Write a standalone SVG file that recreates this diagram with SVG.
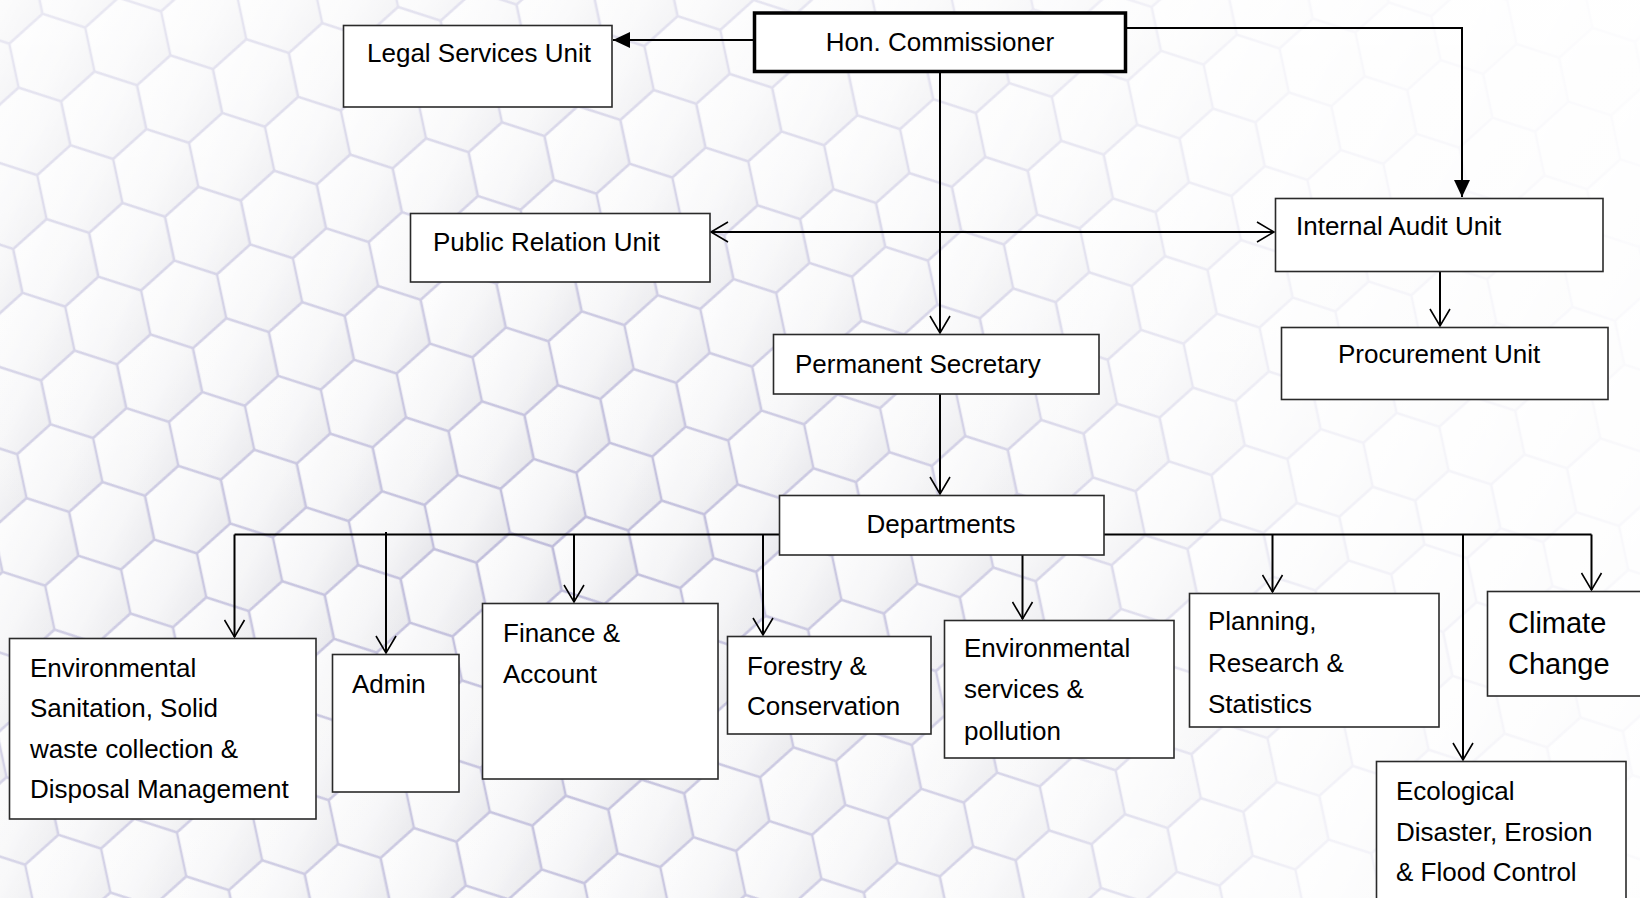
<svg xmlns="http://www.w3.org/2000/svg" xmlns:xlink="http://www.w3.org/1999/xlink" width="1640" height="898" viewBox="0 0 1640 898">
  <defs>
    <style>
      .box { fill: #ffffff; stroke: #2a2a2a; stroke-width: 1.6; }
      .box-main { fill: #ffffff; stroke: #000000; stroke-width: 3.5; }
      .lbl { font-family: "Liberation Sans", Arial, sans-serif; font-size: 26px; fill: #000000; }
      .lbl-big { font-family: "Liberation Sans", Arial, sans-serif; font-size: 29px; fill: #000000; }
      .conn { fill: none; stroke: #000000; stroke-width: 2; }
      .open { marker-end: url(#openArrow); }
      .filled { marker-end: url(#filledArrow); }
      .both { marker-start: url(#openArrowStart); marker-end: url(#openArrow); }
    </style>
    <marker id="openArrow" markerUnits="userSpaceOnUse" viewBox="0 0 20 22" markerWidth="20" markerHeight="22" refX="18" refY="11" orient="auto">
      <path d="M1,1 L18,11 L1,21" fill="none" stroke="#000000" stroke-width="1.6"/>
    </marker>
    <marker id="openArrowStart" markerUnits="userSpaceOnUse" viewBox="0 0 20 22" markerWidth="20" markerHeight="22" refX="18" refY="11" orient="auto-start-reverse">
      <path d="M1,1 L18,11 L1,21" fill="none" stroke="#000000" stroke-width="1.6"/>
    </marker>
    <marker id="filledArrow" markerUnits="userSpaceOnUse" viewBox="0 0 18 16" markerWidth="18" markerHeight="16" refX="17" refY="8" orient="auto">
      <path d="M0,0 L17,8 L0,16 Z" fill="#000000"/>
    </marker>
    <linearGradient id="cellg" x1="0" y1="0" x2="1" y2="1">
      <stop offset="0" stop-color="#ffffff"/>
      <stop offset="0.55" stop-color="#f3f3f5"/>
      <stop offset="1" stop-color="#dcdce2"/>
    </linearGradient>
    <path id="hx" d="M0,-40 L34.64,-20 L34.64,20 L0,40 L-34.64,20 L-34.64,-20 Z"/>
    <pattern id="hexPat" patternUnits="userSpaceOnUse" width="69.28" height="120" patternTransform="rotate(-12) scale(1.12)">
      <rect width="69.28" height="120" fill="#e8e8ee"/>
      <g fill="url(#cellg)" stroke="#b7b4d6" stroke-width="2.2">
        <use xlink:href="#hx" href="#hx" transform="translate(0,0)"/>
        <use xlink:href="#hx" href="#hx" transform="translate(69.28,0)"/>
        <use xlink:href="#hx" href="#hx" transform="translate(34.64,60)"/>
        <use xlink:href="#hx" href="#hx" transform="translate(0,120)"/>
        <use xlink:href="#hx" href="#hx" transform="translate(69.28,120)"/>
      </g>
    </pattern>
    <linearGradient id="fadeX" x1="0" y1="0" x2="1" y2="0">
      <stop offset="0" stop-color="#ffffff" stop-opacity="0.35"/>
      <stop offset="0.35" stop-color="#ffffff" stop-opacity="0.1"/>
      <stop offset="0.6" stop-color="#ffffff" stop-opacity="0.35"/>
      <stop offset="0.8" stop-color="#ffffff" stop-opacity="0.8"/>
      <stop offset="1" stop-color="#ffffff" stop-opacity="0.92"/>
    </linearGradient>
    <linearGradient id="fadeY" x1="0" y1="0" x2="0" y2="1">
      <stop offset="0" stop-color="#ffffff" stop-opacity="0.55"/>
      <stop offset="0.35" stop-color="#ffffff" stop-opacity="0.2"/>
      <stop offset="0.6" stop-color="#ffffff" stop-opacity="0"/>
      <stop offset="1" stop-color="#ffffff" stop-opacity="0.15"/>
    </linearGradient>
  </defs>

  <g id="background">
    <rect x="0" y="0" width="1640" height="898" fill="#f6f6f8"/>
    <rect x="0" y="0" width="1640" height="898" fill="url(#hexPat)"/>
    <rect x="0" y="0" width="1640" height="898" fill="url(#fadeX)"/>
    <rect x="0" y="0" width="1640" height="898" fill="url(#fadeY)"/>
  </g>

  <g id="connectors">
    <path class="conn filled" d="M753,40 H613"/>
    <path class="conn filled" d="M1124,28 H1462 V197"/>
    <path class="conn both" d="M711,232 H1274"/>
    <path class="conn open" d="M940,73 V333"/>
    <path class="conn open" d="M1440,272 V326"/>
    <path class="conn open" d="M940,394 V494"/>
    <path class="conn" d="M234.5,534.5 H1591.5"/>
    <path class="conn open" d="M234.5,534.5 V637"/>
    <path class="conn open" d="M386,532 V653"/>
    <path class="conn open" d="M574,534.5 V602"/>
    <path class="conn open" d="M763,534.5 V635"/>
    <path class="conn open" d="M1022.5,555 V619"/>
    <path class="conn open" d="M1272.5,534.5 V592"/>
    <path class="conn open" d="M1463,534.5 V760"/>
    <path class="conn open" d="M1591.5,534.5 V590"/>
  </g>

  <g id="node-commissioner">
    <rect class="box-main" x="754.5" y="13" width="371" height="58.5"/>
    <text class="lbl" x="940" y="51" text-anchor="middle">Hon. Commissioner</text>
  </g>
  <g id="node-legal">
    <rect class="box" x="343.5" y="25.5" width="268.5" height="81.5"/>
    <text class="lbl" x="367" y="62">Legal Services Unit</text>
  </g>
  <g id="node-public-relation">
    <rect class="box" x="410.5" y="213.5" width="299.5" height="68.5"/>
    <text class="lbl" x="433" y="251">Public Relation Unit</text>
  </g>
  <g id="node-internal-audit">
    <rect class="box" x="1275.5" y="198.5" width="327.5" height="73"/>
    <text class="lbl" x="1296" y="235">Internal Audit Unit</text>
  </g>
  <g id="node-procurement">
    <rect class="box" x="1281.5" y="327.5" width="326.5" height="72"/>
    <text class="lbl" x="1338" y="363">Procurement Unit</text>
  </g>
  <g id="node-permanent-secretary">
    <rect class="box" x="773.5" y="334.5" width="325.5" height="59.5"/>
    <text class="lbl" x="795" y="373">Permanent Secretary</text>
  </g>
  <g id="node-departments">
    <rect class="box" x="779.5" y="495.5" width="324.5" height="59.5"/>
    <text class="lbl" x="941" y="533" text-anchor="middle">Departments</text>
  </g>
  <g id="node-env-sanitation">
    <rect class="box" x="9.5" y="638.5" width="306.5" height="180.5"/>
    <text class="lbl" x="30" y="677">Environmental</text>
    <text class="lbl" x="30" y="717">Sanitation, Solid</text>
    <text class="lbl" x="30" y="758">waste collection &amp;</text>
    <text class="lbl" x="30" y="798">Disposal Management</text>
  </g>
  <g id="node-admin">
    <rect class="box" x="332.5" y="654.5" width="126.5" height="137.5"/>
    <text class="lbl" x="352" y="693">Admin</text>
  </g>
  <g id="node-finance">
    <rect class="box" x="482.5" y="603.5" width="235.5" height="175.5"/>
    <text class="lbl" x="503" y="642">Finance &amp;</text>
    <text class="lbl" x="503" y="683">Account</text>
  </g>
  <g id="node-forestry">
    <rect class="box" x="727.5" y="636.5" width="203.5" height="97.5"/>
    <text class="lbl" x="747" y="675">Forestry &amp;</text>
    <text class="lbl" x="747" y="715">Conservation</text>
  </g>
  <g id="node-env-services">
    <rect class="box" x="944.5" y="620.5" width="229.5" height="137.5"/>
    <text class="lbl" x="964" y="657">Environmental</text>
    <text class="lbl" x="964" y="698">services &amp;</text>
    <text class="lbl" x="964" y="740">pollution</text>
  </g>
  <g id="node-planning">
    <rect class="box" x="1189.5" y="593.5" width="249.5" height="133.5"/>
    <text class="lbl" x="1208" y="630">Planning,</text>
    <text class="lbl" x="1208" y="672">Research &amp;</text>
    <text class="lbl" x="1208" y="713">Statistics</text>
  </g>
  <g id="node-climate">
    <rect class="box" x="1487.5" y="591.5" width="160" height="104.5"/>
    <text class="lbl-big" x="1508" y="633">Climate</text>
    <text class="lbl-big" x="1508" y="674">Change</text>
  </g>
  <g id="node-ecological">
    <rect class="box" x="1376.5" y="761.5" width="249.5" height="150"/>
    <text class="lbl" x="1396" y="800">Ecological</text>
    <text class="lbl" x="1396" y="841">Disaster, Erosion</text>
    <text class="lbl" x="1396" y="881">&amp; Flood Control</text>
  </g>
</svg>
